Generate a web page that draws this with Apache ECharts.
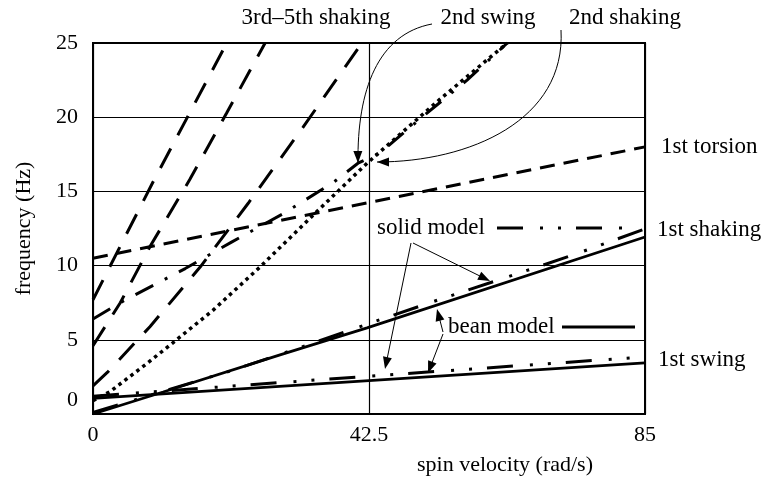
<!DOCTYPE html>
<html>
<head>
<meta charset="utf-8">
<script src="https://cdn.jsdelivr.net/npm/echarts@6/dist/echarts.min.js"></script>
<style>
  html, body { margin: 0; padding: 0; background: #fff; }
  #chart { width: 763px; height: 484px; }
</style>
</head>
<body>
<div id="chart"></div>
<script>
// spin velocity (rad/s) / frequency (Hz)
const xTicks = [0, 42.5, 85]
const yTicks = [0, 5, 10, 15, 20, 25]

// 3rd-5th shaking (long dashes)
const shake3V = [0, 9.2, 20.6]
const shake3F = [7.7, 15.6, 25]
const shake4V = [0, 4.2, 8.8, 14.9, 20.6, 26.5]
const shake4F = [4.6, 7.5, 11.3, 15.8, 20.3, 25]
const shake5V = [0, 2.2, 8.8, 16.5, 23.9, 32.3, 41.4]
const shake5F = [1.9, 2.8, 5.9, 9.9, 14.2, 19.3, 25]

// 2nd swing (dash-dot) and 2nd shaking (dotted)
const swing2V = [0, 4.2, 14.2, 21.4, 29.3, 37.0, 40.8, 44.2, 50.4, 57.6, 63.8]
const swing2F = [6.4, 7.5, 9.8, 11.6, 13.5, 15.6, 16.9, 17.6, 19.9, 22.5, 25]
const shake2V = [0, 2.6, 8.3, 12.3, 18.5, 25.7, 33.9, 42.2, 53.4, 63.8]
const shake2F = [0.9, 1.5, 3.4, 4.8, 7.0, 9.9, 13.4, 16.9, 21.2, 25]

// 1st torsion (short dashes)
const torsionV = [0, 42.5, 85]
const torsionF = [10.5, 14.25, 18.0]

// 1st shaking: bean model / solid model
const shake1BeanV = [0, 10.8, 28.8, 42.2, 85]
const shake1BeanF = [0, 1.48, 3.98, 5.8, 11.93]
const shake1SolidV = [0, 21.6, 32.2, 42.7, 53.1, 63.8, 73.9, 85]
const shake1SolidF = [0.1, 2.96, 4.52, 6.13, 7.68, 9.23, 10.71, 12.47]

// 1st swing: bean model / solid model
const swing1BeanV = [0, 85]
const swing1BeanF = [1.05, 3.45]
const swing1SolidV = [0, 42.5, 85]
const swing1SolidF = [1.2, 2.55, 3.85]

const FONT = "'Liberation Serif', 'Times New Roman', serif"
const DASH_LONG = [22, 15]
const DASH_SHORT = [15, 9]
const DOTTED = [3.5, 4]
const DASH_DOT = [20, 13, 3, 13]
const DASH_DOT_DOT = [26, 17, 3, 15, 3, 15]

function pairs(xs, ys) {
  return xs.map((x, i) => [x, ys[i]])
}

function lineSeries(name, xs, ys, type, width) {
  return {
    name: name,
    type: 'line',
    data: pairs(xs, ys),
    showSymbol: false,
    symbol: 'none',
    silent: true,
    lineStyle: { color: '#000', width: width || 3, type: type, cap: 'butt' }
  }
}

function head(x, y, ang) {
  const len = 12, half = 4.5
  const c = Math.cos(ang), s = Math.sin(ang)
  return {
    type: 'polygon',
    shape: { points: [
      [x, y],
      [x - len * c + half * s, y - len * s - half * c],
      [x - len * c - half * s, y - len * s + half * c]
    ] },
    style: { fill: '#000' }
  }
}

function arrow(x1, y1, x2, y2) {
  const ang = Math.atan2(y2 - y1, x2 - x1)
  return [
    { type: 'line', shape: { x1: x1, y1: y1, x2: x2 - 8 * Math.cos(ang), y2: y2 - 8 * Math.sin(ang) },
      style: { stroke: '#000', lineWidth: 1 } },
    head(x2, y2, ang)
  ]
}

function curveArrow(p0, c1, c2, p3) {
  const ang = Math.atan2(p3[1] - c2[1], p3[0] - c2[0])
  return [
    { type: 'bezierCurve',
      shape: { x1: p0[0], y1: p0[1], cpx1: c1[0], cpy1: c1[1], cpx2: c2[0], cpy2: c2[1], x2: p3[0], y2: p3[1] },
      style: { stroke: '#000', lineWidth: 1, fill: null } },
    head(p3[0], p3[1], ang)
  ]
}

function label(text, x, y, align) {
  return {
    type: 'text',
    x: x, y: y,
    style: { text: text, font: '23px ' + FONT, fill: '#000', align: align || 'left', verticalAlign: 'middle' }
  }
}

const chart = echarts.init(document.getElementById('chart'))

const option = {
  backgroundColor: '#fff',
  animation: false,
  textStyle: { fontFamily: FONT },
  grid: {
    left: 93, right: 118, top: 43, bottom: 70,
    show: true, borderColor: '#000', borderWidth: 2, backgroundColor: 'transparent'
  },
  xAxis: {
    type: 'value',
    min: xTicks[0], max: xTicks[xTicks.length - 1], interval: xTicks[1] - xTicks[0],
    name: 'spin velocity (rad/s)',
    nameLocation: 'middle',
    nameGap: 40,
    nameTextStyle: { fontSize: 22, color: '#000', fontFamily: FONT, padding: [0, 0, 0, 272] },
    axisLine: { show: true, lineStyle: { color: '#000', width: 2 } },
    axisTick: { show: false },
    axisLabel: { fontSize: 22, color: '#000', fontFamily: FONT, margin: 10 },
    splitLine: { show: true, lineStyle: { color: '#000', width: 1.2 } }
  },
  yAxis: {
    type: 'value',
    min: yTicks[0], max: yTicks[yTicks.length - 1], interval: yTicks[1] - yTicks[0],
    name: 'frequency (Hz)',
    nameLocation: 'middle',
    nameGap: 58,
    nameTextStyle: { fontSize: 22, color: '#000', fontFamily: FONT },
    axisLine: { show: true, lineStyle: { color: '#000', width: 2 } },
    axisTick: { show: false },
    axisLabel: {
      fontSize: 22, color: '#000', fontFamily: FONT, margin: 15, lineHeight: 28,
      // the 0 label sits a little above the axis in the original
      formatter: v => (v === 0 ? '0\n ' : String(v))
    },
    splitLine: { show: true, lineStyle: { color: '#000', width: 1.2 } }
  },
  series: [
    lineSeries('3rd shaking', shake3V, shake3F, DASH_LONG),
    lineSeries('4th shaking', shake4V, shake4F, DASH_LONG),
    lineSeries('5th shaking', shake5V, shake5F, DASH_LONG),
    lineSeries('2nd swing', swing2V, swing2F, DASH_DOT),
    lineSeries('2nd shaking', shake2V, shake2F, DOTTED, 3.5),
    lineSeries('1st torsion', torsionV, torsionF, DASH_SHORT),
    lineSeries('1st shaking bean', shake1BeanV, shake1BeanF, 'solid', 2.8),
    lineSeries('1st shaking solid', shake1SolidV, shake1SolidF, DASH_DOT_DOT),
    lineSeries('1st swing bean', swing1BeanV, swing1BeanF, 'solid', 2.8),
    lineSeries('1st swing solid', swing1SolidV, swing1SolidF, DASH_DOT_DOT)
  ],
  graphic: [].concat(
    label('3rd\u20135th shaking', 316, 18, 'center'),
    label('2nd swing', 488, 18, 'center'),
    label('2nd shaking', 625, 18, 'center'),
    label('1st torsion', 661, 147),
    label('1st shaking', 657, 230),
    label('1st swing', 658, 360),
    label('solid model', 377, 228),
    label('bean model', 448, 327),
    [
      { type: 'line', shape: { x1: 497, y1: 228, x2: 627, y2: 228 },
        style: { stroke: '#000', lineWidth: 3, lineDash: DASH_DOT_DOT } },
      { type: 'line', shape: { x1: 562, y1: 327, x2: 635, y2: 327 },
        style: { stroke: '#000', lineWidth: 3 } }
    ],
    arrow(413, 243, 490, 281),
    arrow(411, 243, 385, 369),
    arrow(443, 332, 437, 309),
    arrow(443, 334, 428, 373),
    curveArrow([432, 24], [378, 34], [357, 90], [358, 163]),
    curveArrow([561, 30], [566, 120], [470, 162], [377, 162])
  )
}

chart.setOption(option)
</script>
</body>
</html>
